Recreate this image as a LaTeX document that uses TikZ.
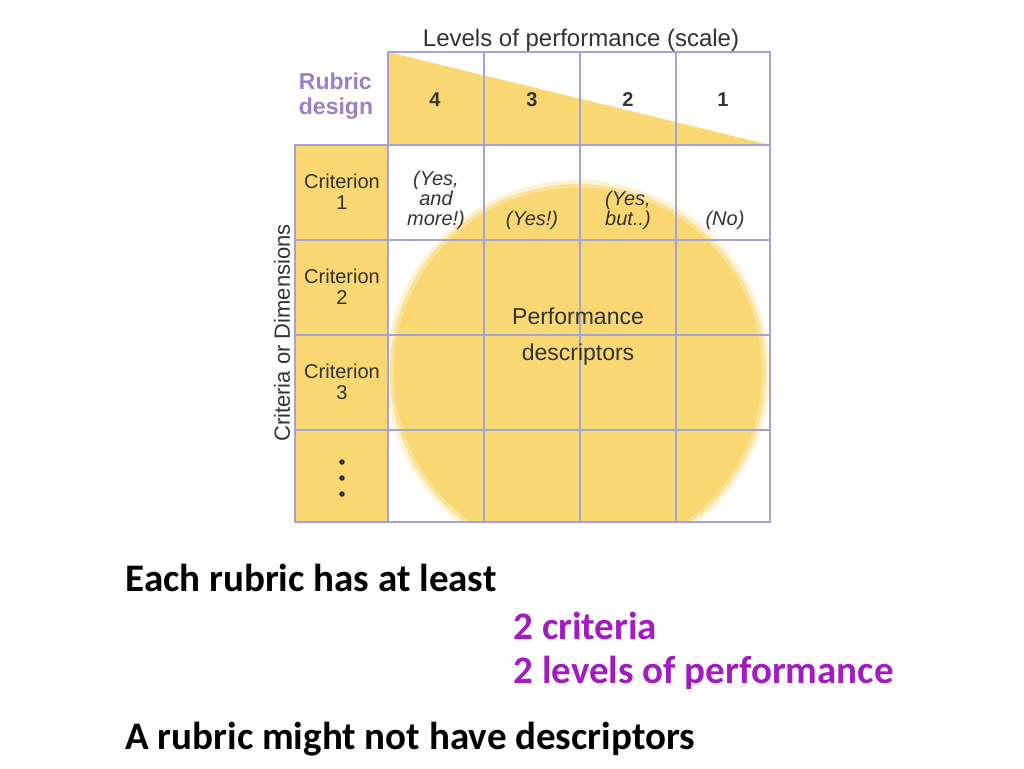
\documentclass[tikz,border=0pt]{standalone}
\usepackage{fontspec}
\setmainfont{Liberation Sans}
\newfontfamily\calfnt{Carlito}
\usetikzlibrary{calc}
\definecolor{yel}{HTML}{F9D873}
\definecolor{grid}{HTML}{A3A3D6}
\definecolor{rub}{HTML}{9A80C4}
\definecolor{pur}{HTML}{A21CC0}
\definecolor{txt}{HTML}{333333}
\tikzset{cell/.style={font=\fontsize{20}{21}\selectfont,text=txt,align=center},
 it/.style={cell,font=\fontsize{20}{20}\selectfont\itshape},
 big/.style={font=\calfnt\bfseries\fontsize{39}{42}\selectfont,anchor=west}}
\begin{document}
\begin{tikzpicture}[x=1pt,y=-1pt]
\useasboundingbox (0,0) rectangle (1024,768);
\fill[white] (0,0) rectangle (1024,768);
% yellow areas
\fill[yel] (388,52) -- (770,145) -- (388,145) -- cycle;
\fill[yel] (295,145) rectangle (388,522);
\begin{scope}
\clip (388,145) rectangle (770,522);
\foreach \r/\o in {192/0.3,188/0.6,184/1} \fill[yel,opacity=\o] (578,372) circle (\r);
\end{scope}
% grid
\draw[grid,line width=2.5pt] (388,52) rectangle (770,145);
\foreach \x in {484,580,676} \draw[grid,line width=2.5pt] (\x,52) -- (\x,522);
\draw[grid,line width=2.5pt] (295,145) rectangle (770,522);
\draw[grid,line width=2.5pt] (388,145) -- (388,522);
\foreach \y in {240,335,430} \draw[grid,line width=2.5pt] (295,\y) -- (770,\y);
% header
\node[cell,font=\fontsize{24}{26}\selectfont] (lev) at (581,40) {Levels of performance (scale)};
\node[cell,text=rub,font=\bfseries\fontsize{23}{25}\selectfont,align=left] (rd) at (336,96) {Rubric\\design};
\node[cell,font=\bfseries\fontsize{20}{22}\selectfont] (h4) at (435,100) {4};
\node[cell,font=\bfseries\fontsize{20}{22}\selectfont] (h3) at (532,100) {3};
\node[cell,font=\bfseries\fontsize{20}{22}\selectfont] (h2) at (628,100) {2};
\node[cell,font=\bfseries\fontsize{20}{22}\selectfont] (h1) at (723,100) {1};
\node[cell] (c1) at (342,192) {Criterion\\1};
\node[cell] (c2) at (342,287) {Criterion\\2};
\node[cell] (c3) at (342,382) {Criterion\\3};
\foreach \y [count=\i] in {462,478,494} \fill[txt] (342,\y) circle (2.8);
\node[cell,rotate=90,font=\fontsize{22}{24}\selectfont] (cr) at (282,333) {Criteria or Dimensions};
\node[it] (d4) at (436,200) {(Yes,\\and\\more!)};
\node[it] (d3) at (532,220) {(Yes!)};
\node[it] (d2) at (628,210) {(Yes,\\but..)};
\node[it] (d1) at (725,220) {(No)};
\node[cell,font=\fontsize{23}{36}\selectfont] (pd) at (578,337) {Performance\\descriptors};
% bottom text
\node[big] (e) at (122,578) {Each rubric has at least};
\node[big,text=pur] (t1) at (510,626) {2 criteria};
\node[big,text=pur] (t2) at (510,673) {2 levels of performance};
\node[big] (a) at (122,739) {A rubric might not have descriptors};
\end{tikzpicture}
\end{document}
